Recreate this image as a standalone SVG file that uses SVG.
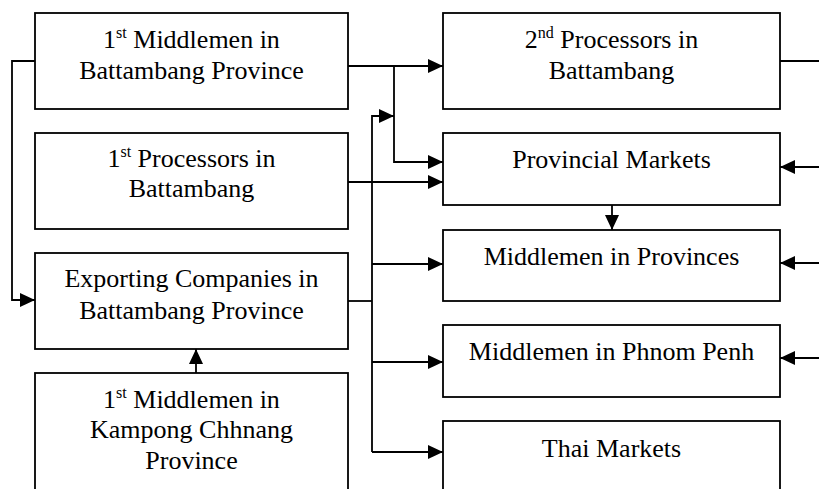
<svg xmlns="http://www.w3.org/2000/svg" width="819" height="489" viewBox="0 0 819 489">
<style>
.box{fill:#fff;stroke:#000;stroke-width:1.8}
.t{font-family:"Liberation Serif","Times New Roman",serif;font-size:26px;fill:#000;text-anchor:middle}
.c{fill:none;stroke:#000;stroke-width:1.8}
.s{font-size:16px}
</style>
<defs>
<marker id="ah" markerUnits="userSpaceOnUse" markerWidth="16" markerHeight="16" viewBox="0 0 16 16" refX="15" refY="8" orient="auto">
<path d="M0,1 L15,8 L0,15 Z" fill="#000"/>
</marker>
</defs>
<rect width="819" height="489" fill="#fff"/>
<g id="n1"><rect class="box" x="35" y="13" width="313" height="96"/>
<text class="t" x="191.5" y="48">1<tspan class="s" dy="-10">st</tspan><tspan dy="10"> Middlemen in</tspan></text>
<text class="t" x="191.5" y="79">Battambang Province</text></g>
<g id="n2"><rect class="box" x="35" y="133" width="313" height="96"/>
<text class="t" x="191.5" y="167">1<tspan class="s" dy="-10">st</tspan><tspan dy="10"> Processors in</tspan></text>
<text class="t" x="191.5" y="197">Battambang</text></g>
<g id="n3"><rect class="box" x="35" y="253" width="313" height="96"/>
<text class="t" x="191.5" y="287">Exporting Companies in</text>
<text class="t" x="191.5" y="319">Battambang Province</text></g>
<g id="n4"><rect class="box" x="35" y="373" width="313" height="140"/>
<text class="t" x="191.5" y="408">1<tspan class="s" dy="-10">st</tspan><tspan dy="10"> Middlemen in</tspan></text>
<text class="t" x="191.5" y="438">Kampong Chhnang</text>
<text class="t" x="191.5" y="469">Province</text></g>
<g id="r1"><rect class="box" x="443" y="13" width="337" height="96"/>
<text class="t" x="611.5" y="48">2<tspan class="s" dy="-10">nd</tspan><tspan dy="10"> Processors in</tspan></text>
<text class="t" x="611.5" y="79">Battambang</text></g>
<g id="r2"><rect class="box" x="443" y="133" width="337" height="72"/>
<text class="t" x="611.5" y="168">Provincial Markets</text></g>
<g id="r3"><rect class="box" x="443" y="230" width="337" height="71"/>
<text class="t" x="611.5" y="265">Middlemen in Provinces</text></g>
<g id="r4"><rect class="box" x="443" y="325" width="337" height="72"/>
<text class="t" x="611.5" y="360">Middlemen in Phnom Penh</text></g>
<g id="r5"><rect class="box" x="443" y="421" width="337" height="100"/>
<text class="t" x="611.5" y="457">Thai Markets</text></g>
<g id="connectors">
<path class="c" d="M348,66 H443" marker-end="url(#ah)"/>
<path class="c" d="M394,66 V162 H443" marker-end="url(#ah)"/>
<path class="c" d="M348,182 H443" marker-end="url(#ah)"/>
<path class="c" d="M35,61 H12 V300 H35" marker-end="url(#ah)"/>
<path class="c" d="M348,301 H372"/>
<path class="c" d="M372,452 V116 H394" marker-end="url(#ah)"/>
<path class="c" d="M372,264 H443" marker-end="url(#ah)"/>
<path class="c" d="M372,362 H443" marker-end="url(#ah)"/>
<path class="c" d="M372,452 H443" marker-end="url(#ah)"/>
<path class="c" d="M612,205 V230" marker-end="url(#ah)"/>
<path class="c" d="M196,373 V349" marker-end="url(#ah)"/>
<path class="c" d="M780,61 H819"/>
<path class="c" d="M819,167 H780" marker-end="url(#ah)"/>
<path class="c" d="M819,263 H780" marker-end="url(#ah)"/>
<path class="c" d="M819,358 H780" marker-end="url(#ah)"/>
</g>
</svg>
